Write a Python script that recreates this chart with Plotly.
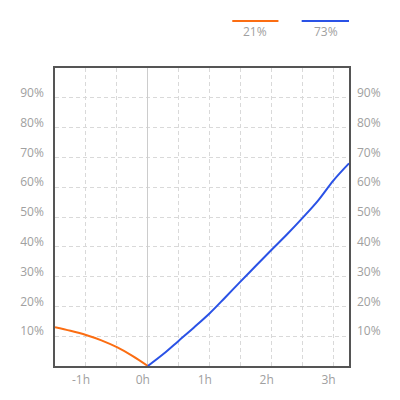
import plotly.graph_objects as go

# hours relative to the event, share in percent
hours_before = [-1.5, -1.25, -1.0, -0.75, -0.5, -0.25, 0.0]
pct_before = [13.0, 11.8, 10.4, 8.6, 6.3, 3.4, 0.0]

hours_after = [0.0, 0.25, 0.5, 0.75, 1.0, 1.25, 1.5, 1.75, 2.0, 2.25, 2.5, 2.75, 3.0, 3.25]
pct_after = [0.0, 4.0, 8.5, 13.0, 17.7, 23.0, 28.4, 33.7, 39.0, 44.2, 49.7, 55.5, 62.3, 68.0]

legend_labels = ['21%', '73%']
x_tick_vals = [-1, 0, 1, 2, 3]
x_tick_text = ['-1h', '0h', '1h', '2h', '3h']
y_tick_vals = [10, 20, 30, 40, 50, 60, 70, 80, 90]
y_tick_text = [f'{v}%' for v in y_tick_vals]

ORANGE = '#fb6d12'
BLUE = '#2a52e6'
GRAY = '#a0a0a0'
GRID = '#d9d9d9'
FONT = dict(family='Open Sans', size=12, color=GRAY)

fig = go.Figure()
fig.add_trace(go.Scatter(x=hours_before, y=pct_before, mode='lines',
                         line=dict(color=ORANGE, width=2, shape='spline'),
                         showlegend=False, hoverinfo='skip'))
fig.add_trace(go.Scatter(x=hours_after, y=pct_after, mode='lines',
                         line=dict(color=BLUE, width=2, shape='spline'),
                         showlegend=False, hoverinfo='skip'))
# dummy trace so the right-hand axis gets drawn
fig.add_trace(go.Scatter(x=[hours_after[0]], y=[pct_after[0]], yaxis='y2',
                         mode='markers', marker=dict(opacity=0),
                         showlegend=False, hoverinfo='skip'))

yaxis_common = dict(
    range=[0, 100], tickvals=y_tick_vals, ticktext=y_tick_text,
    tickfont=FONT, ticks='', ticklabelshift=-5, ticklabelstandoff=7,
    zeroline=False, fixedrange=True,
)

fig.update_layout(
    width=400, height=400,
    # the page body has an 8px margin, so shift the plot box back by that
    margin=dict(l=44, r=59, t=60, b=42),
    paper_bgcolor='white', plot_bgcolor='white',
    font=FONT,
    xaxis=dict(
        range=[-1.5, 3.25], tickvals=x_tick_vals, ticktext=x_tick_text,
        tickfont=FONT, ticks='', ticklabelshift=-5, ticklabelstandoff=2,
        showgrid=True, gridcolor=GRID, griddash='4px,3px', gridwidth=1,
        minor=dict(tickvals=[-1.5, -0.5, 0.5, 1.5, 2.5], showgrid=True,
                   gridcolor=GRID, griddash='4px,3px', gridwidth=1),
        zeroline=True, zerolinecolor='#cccccc', zerolinewidth=1,
        showline=True, linecolor='#555555', linewidth=1.5, mirror=True,
    ),
    yaxis=dict(
        **yaxis_common,
        showgrid=True, gridcolor=GRID, griddash='4px,3px', gridwidth=1,
        showline=True, linecolor='#555555', linewidth=1.5, mirror=True,
    ),
    yaxis2=dict(
        **yaxis_common,
        overlaying='y', side='right', showgrid=False, showline=False,
    ),
    shapes=[
        dict(type='line', xref='paper', yref='paper', x0=0.603, x1=0.760,
             y0=1.158, y1=1.158, line=dict(color=ORANGE, width=2)),
        dict(type='line', xref='paper', yref='paper', x0=0.839, x1=1.0,
             y0=1.158, y1=1.158, line=dict(color=BLUE, width=2)),
    ],
    annotations=[
        dict(text=legend_labels[0], xref='paper', yref='paper', x=0.681, y=1.123,
             showarrow=False, font=FONT, xanchor='center', yanchor='middle'),
        dict(text=legend_labels[1], xref='paper', yref='paper', x=0.921, y=1.123,
             showarrow=False, font=FONT, xanchor='center', yanchor='middle'),
    ],
)

fig.write_html('out.html')
